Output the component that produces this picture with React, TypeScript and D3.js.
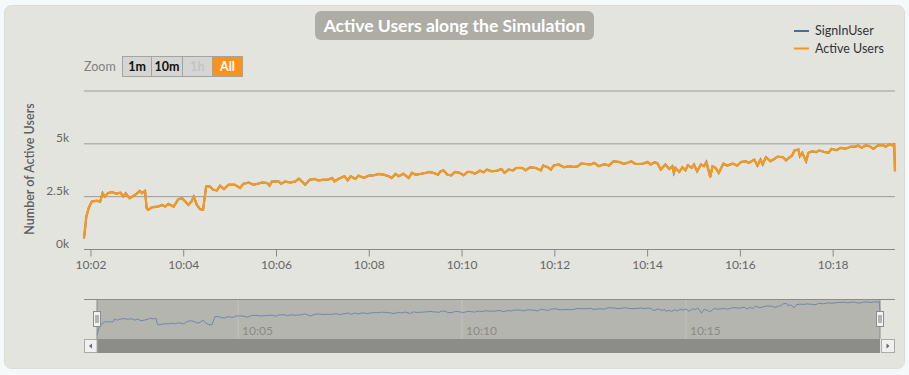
import * as d3 from "d3";

// seconds after 10:00:00 for each sample
const secondsAfter10 = [
  111, 114, 117, 121, 127, 132, 135, 138, 142, 147,
  153, 158, 162, 165, 170, 175, 180, 183, 186, 190,
  192, 194, 199, 207, 212, 216, 220, 227, 233, 238,
  242, 246, 250, 253, 257, 261, 265, 269, 274, 278,
  283, 287, 292, 298, 306, 313, 317, 324, 330, 335,
  341, 348, 351, 354, 363, 366, 371, 378, 384, 389,
  393, 397, 403, 409, 414, 421, 426, 432, 435, 440,
  446, 448, 452, 456, 462, 466, 473, 479, 486, 492,
  499, 505, 509, 514, 518, 524, 531, 535, 540, 546,
  553, 557, 563, 569, 572, 576, 581, 586, 591, 597,
  602, 607, 611, 617, 623, 628, 632, 638, 645, 651,
  655, 660, 666, 670, 678, 682, 688, 695, 702, 705,
  711, 715, 719, 725, 732, 738, 745, 750, 754, 760,
  766, 771, 777, 783, 786, 790, 796, 803, 809, 814,
  819, 824, 833, 840, 844, 849, 853, 857, 863, 868,
  872, 874, 876, 881, 885, 889, 892, 897, 900, 904,
  909, 913, 916, 921, 924, 928, 932, 938, 943, 950,
  956, 961, 967, 971, 978, 982, 986, 989, 993, 999,
  1004, 1008, 1015, 1019, 1023, 1027, 1030, 1035, 1037, 1040,
  1045, 1048, 1053, 1058, 1062, 1068, 1074, 1078, 1084, 1090,
  1096, 1103, 1109, 1112, 1117, 1122, 1127, 1132, 1138, 1144,
  1148, 1153, 1157, 1159, 1160,
];

const activeUsers = [
  530, 1555, 1955, 2270, 2310, 2270, 2665, 2505, 2665, 2715,
  2635, 2695, 2505, 2665, 2425, 2535, 2665, 2775, 2665, 2775,
  1955, 1875, 2000, 2030, 2110, 2030, 2160, 2030, 2385, 2425,
  2270, 2110, 2270, 2505, 2110, 1910, 1875, 2985, 2985, 2830,
  2800, 3020, 2860, 3065, 3065, 2910, 3110, 3170, 3065, 3100,
  3170, 3145, 3020, 3220, 3220, 3110, 3220, 3170, 3220, 3350,
  3220, 3065, 3300, 3340, 3270, 3300, 3300, 3385, 3220, 3340,
  3435, 3465, 3270, 3465, 3340, 3495, 3385, 3495, 3510, 3575,
  3540, 3465, 3385, 3575, 3465, 3590, 3385, 3625, 3540, 3575,
  3625, 3670, 3625, 3540, 3700, 3745, 3540, 3510, 3670, 3625,
  3510, 3670, 3670, 3590, 3730, 3650, 3780, 3700, 3730, 3810,
  3625, 3780, 3745, 3860, 3860, 3745, 3890, 3860, 3745, 3970,
  3890, 3780, 3985, 4020, 3890, 3940, 3910, 3940, 4065, 4050,
  4020, 4100, 3940, 4020, 4020, 3970, 4175, 4145, 4050, 4100,
  4175, 4050, 4050, 4145, 4020, 4130, 4065, 3780, 4020, 3810,
  3940, 3625, 3860, 3670, 3890, 3745, 3985, 3860, 4020, 3700,
  4020, 3940, 4145, 3435, 3940, 3860, 3625, 4065, 3970, 4065,
  3970, 4145, 4175, 4100, 4255, 3970, 4255, 4020, 4370, 4175,
  4290, 4390, 4370, 4220, 4340, 4450, 4685, 4730, 4415, 4575,
  4175, 4575, 4650, 4605, 4685, 4625, 4575, 4765, 4700, 4810,
  4765, 4865, 4865, 4925, 4810, 4925, 4890, 4765, 4925, 4940,
  4865, 4970, 4925, 4970, 3700,
];

const yTicks = [0, 2500, 5000, 7500];
const zoomButtons = ["1m", "10m", "1h", "All"];
const legendItems = [
  { name: "SignInUser", color: "#4a6aa6" },
  { name: "Active Users", color: "#f39a1e" },
];

const FONT = "Lato, 'Open Sans', sans-serif";
const base = new Date(2024, 0, 1, 10, 0, 0).getTime();
const toDate = (s: number) => new Date(base + s * 1000);

type Pt = { t: Date; v: number };
const points: Pt[] = secondsAfter10.map((s, i) => ({ t: toDate(s), v: activeUsers[i] }));

export default function App() {
  const W = 909;
  const H = 375;
  const plot = { left: 84, right: 895, top: 91, bottom: 249.5 };
  const nav = { left: 84, right: 895, inL: 97, inR: 880, top: 299.5, bottom: 339 };

  const domain = d3.extent(points, d => d.t) as [Date, Date];
  const x = d3.scaleTime().domain(domain).range([plot.left, plot.right]);
  const y = d3.scaleLinear().domain([0, 7500]).range([plot.bottom, plot.top]);
  const xn = d3.scaleTime().domain(domain).range([nav.inL, nav.inR]);
  const yn = d3.scaleLinear().domain([0, 5000]).range([nav.bottom, nav.top + 2]);

  const line = d3.line<Pt>().x(d => x(d.t)).y(d => y(d.v));
  const navLine = d3.line<Pt>().x(d => xn(d.t)).y(d => yn(d.v));
  const fmt = d3.timeFormat("%H:%M");
  const xTicks = x.ticks(d3.timeMinute.every(2)!);
  const navTicks = xn.ticks(d3.timeMinute.every(5)!);

  const btnX = [122, 151, 182, 212, 242];

  return (
    <svg width={W} height={H} style={{ position: "absolute", left: 0, top: 0, background: "#f6f9fa" }} fontFamily={FONT}>
      <rect x={4.5} y={5.5} width={900} height={363} rx={7} fill="#e4e4df" stroke="#dcdcd7" />

      {/* title */}
      <rect x={315} y={11} width={279} height={29} rx={6} fill="#adada6" />
      <text x={454.5} y={31.5} textAnchor="middle" fill="#fff" fontSize={17.5} fontWeight="bold">
        Active Users along the Simulation
      </text>

      {/* legend */}
      {legendItems.map((d, i) => (
        <g key={d.name} transform={`translate(794,${31 + i * 17.5})`}>
          <line x1={0} x2={15} y1={0} y2={0} stroke={d.color} strokeWidth={2} />
          <text x={21} y={4} fontSize={12.5} fill="#333">{d.name}</text>
        </g>
      ))}

      {/* range selector */}
      <text x={84} y={71} fontSize={12.5} fill="#808080">Zoom</text>
      {zoomButtons.map((b, i) => {
        const sel = b === "All";
        const off = b === "1h";
        return (
          <g key={b}>
            <rect x={btnX[i] + 0.5} y={56.5} width={btnX[i + 1] - btnX[i]} height={20}
              fill={sel ? "#f7931e" : "#d5d5d3"} stroke="#a3a3a0" />
            <text x={(btnX[i] + btnX[i + 1]) / 2 + 0.5} y={71} textAnchor="middle" fontSize={12.5}
              fontWeight="bold" fill={sel ? "#fff" : off ? "#c4c4c2" : "#111"}>{b}</text>
          </g>
        );
      })}

      {/* grid */}
      {yTicks.slice(1).map(t => (
        <line key={t} x1={plot.left} x2={plot.right} y1={y(t)} y2={y(t)} stroke="#9a9a96" />
      ))}
      {yTicks.slice(0, 3).map(t => (
        <text key={t} x={69} y={y(t) - 2} textAnchor="end" fontSize={12} fill="#666">
          {t === 0 ? "0k" : `${t / 1000}k`}
        </text>
      ))}
      <text transform={`translate(34,169) rotate(-90)`} textAnchor="middle" fontSize={12.5}
        fontWeight={600} fill="#5e5e5e">Number of Active Users</text>

      {/* x axis */}
      <line x1={plot.left} x2={plot.right} y1={plot.bottom} y2={plot.bottom} stroke="#888" />
      {xTicks.map(t => (
        <g key={+t}>
          <line x1={x(t)} x2={x(t)} y1={plot.bottom} y2={plot.bottom + 7} stroke="#888" />
          <text x={x(t)} y={plot.bottom + 19} textAnchor="middle" fontSize={12} fill="#666">{fmt(t)}</text>
        </g>
      ))}

      {/* series: SignInUser sits under Active Users */}
      <path d={line(points) || ""} fill="none" stroke="#4a6aa6" strokeWidth={2} />
      <path d={line(points) || ""} fill="none" stroke="#f39a1e" strokeWidth={2.3} strokeLinejoin="round" />

      {/* navigator */}
      <rect x={nav.inL} y={nav.top} width={nav.inR - nav.inL} height={nav.bottom - nav.top} fill="#b5b5b0" />
      {navTicks.map(t => (
        <g key={+t}>
          <line x1={xn(t)} x2={xn(t)} y1={nav.top} y2={nav.bottom} stroke="#c2c2bd" />
          <text x={xn(t) + 4} y={nav.bottom - 4} fontSize={12} fill="#8a8a86">{fmt(t)}</text>
        </g>
      ))}
      <path d={navLine(points) || ""} fill="none" stroke="#7187aa" strokeWidth={1} />
      <line x1={nav.left} x2={nav.right} y1={nav.top} y2={nav.top} stroke="#8c8c88" />
      <line x1={nav.inL} x2={nav.inL} y1={nav.top} y2={nav.bottom} stroke="#8c8c88" />
      <line x1={nav.inR} x2={nav.inR} y1={nav.top} y2={nav.bottom} stroke="#8c8c88" />
      {[nav.inL, nav.inR].map(hx => (
        <g key={hx}>
          <rect x={hx - 3.5} y={311.5} width={7} height={15} fill="#f2f2f2" stroke="#8c8c88" />
          <line x1={hx - 1} x2={hx - 1} y1={315} y2={323} stroke="#777" />
          <line x1={hx + 1} x2={hx + 1} y1={315} y2={323} stroke="#777" />
        </g>
      ))}

      {/* scrollbar */}
      <rect x={nav.inL} y={339} width={nav.inR - nav.inL} height={14} fill="#8c8c88" />
      <rect x={nav.left + 0.5} y={339.5} width={12.5} height={13} fill="#f0f0ee" stroke="#aaa" />
      <path d={`M${nav.left + 5},346 l3,-2.5 v5 z`} fill="#666" />
      <rect x={nav.inR + 1.5} y={339.5} width={13} height={13} fill="#f0f0ee" stroke="#aaa" />
      <path d={`M${nav.inR + 9.5},346 l-3,-2.5 v5 z`} fill="#666" />
    </svg>
  );
}
